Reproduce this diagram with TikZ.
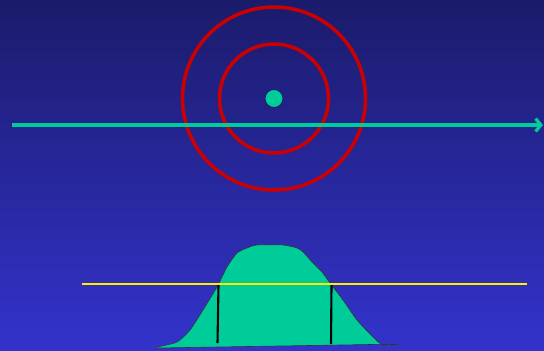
\documentclass[tikz,border=0pt]{standalone}
\usetikzlibrary{arrows.meta}
\definecolor{bgtop}{RGB}{27,27,107}
\definecolor{bgbottom}{RGB}{51,51,204}
\definecolor{ringred}{RGB}{204,0,0}
\definecolor{seagreen}{RGB}{0,204,153}
\definecolor{lineyellow}{RGB}{255,240,0}
\begin{document}
\begin{tikzpicture}[x=0.03cm,y=-0.03cm]
    \shade[top color=bgtop,bottom color=bgbottom] (0,0) rectangle (544,350);
    \useasboundingbox (0,0) rectangle (544,350);

    % source and rings
    \node[circle,fill=seagreen,draw=bgtop,line width=0.7pt,minimum size=0.54cm,inner sep=0pt] (src) at (274,98.5) {};
    \draw[ringred,line width=3pt] (src.center) circle[radius=54.5];
    \draw[ringred,line width=3pt] (src.center) circle[radius=91.5];

    % axis
    \coordinate (axL) at (12,125);
    \coordinate (axR) at (543,125);
    \draw[seagreen,line width=2.8pt,-{Straight Barb[length=4.5pt,width=11pt]}] (axL) -- (axR);

    % profile
    \fill[seagreen,draw=black!80,line width=0.5pt]
        plot[smooth,tension=0.4] coordinates {(157,347) (177,342) (190,330) (203,310) (217,287) (227,267)
            (237,253) (247,248) (257,245) (283,245) (297,248) (303,252) (313,263) (322,272)
            (330,283) (343,300) (357,320) (373,337) (383,345) (400,344)}
        -- (157,348) -- cycle;

    \coordinate (y1) at (82,284);
    \coordinate (y2) at (527,284);
    \draw[lineyellow,line width=2pt] (y1) -- (y2);

    \coordinate (a1) at (218.5,285);
    \coordinate (a2) at (217.5,343);
    \coordinate (b1) at (331.5,285);
    \coordinate (b2) at (331,344);
    \draw[black,line width=1.8pt] (a1) -- (a2);
    \draw[black,line width=1.8pt] (b1) -- (b2);
\end{tikzpicture}
\end{document}
